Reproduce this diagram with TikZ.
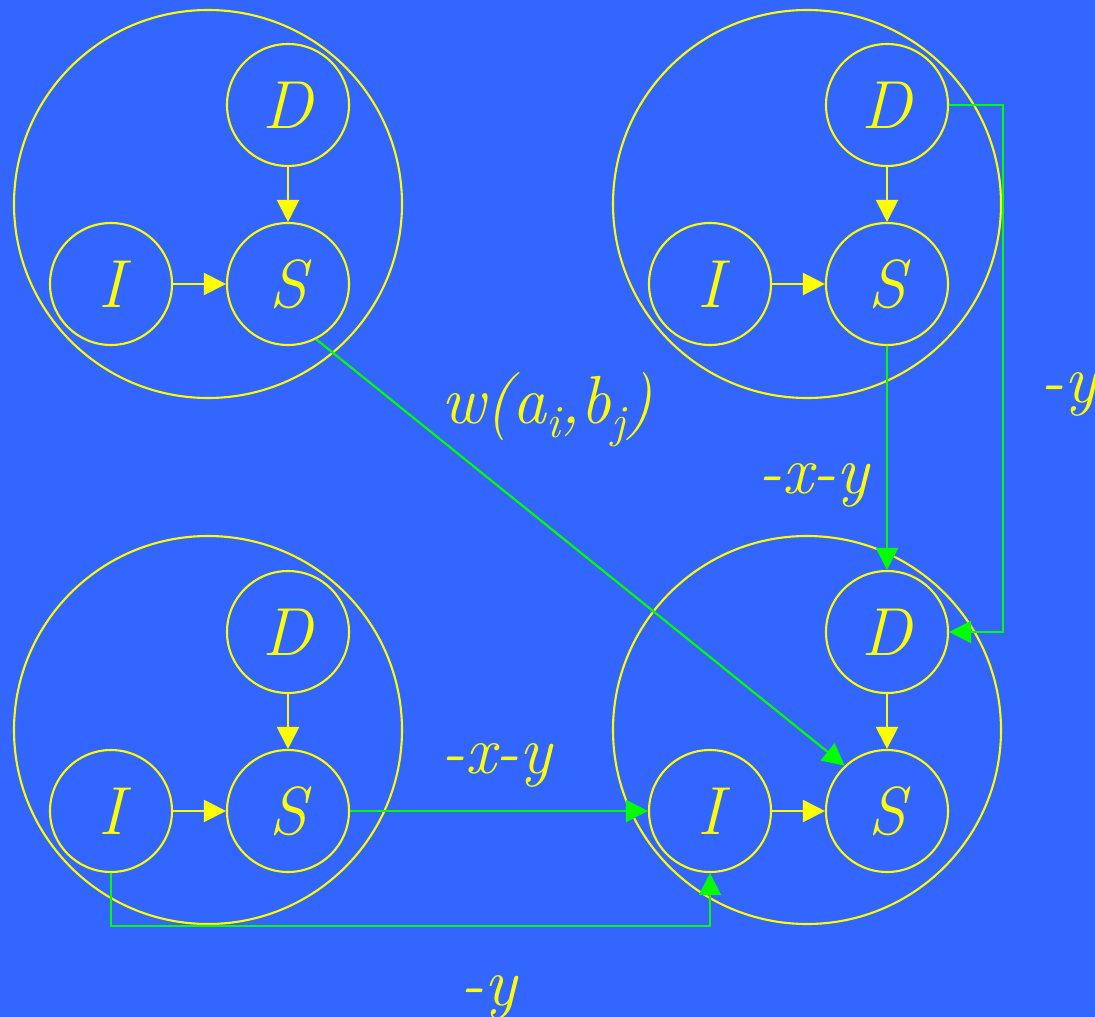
\documentclass[tikz,border=0pt]{standalone}
\usepackage{fontspec}
\usetikzlibrary{arrows.meta}
\definecolor{bgblue}{HTML}{3366FF}
\definecolor{yel}{HTML}{FFFF00}
\definecolor{grn}{HTML}{00FF00}
\newcommand{\bigital}{\fontsize{68}{72}\selectfont\itshape\addfontfeatures{FakeBold=1.5}}
\begin{document}
\begin{tikzpicture}[x=1pt,y=-1pt,
  big/.style={circle,draw=yel,line width=2.1pt,minimum size=388pt,inner sep=0pt},
  small/.style={circle,draw=yel,line width=2.1pt,minimum size=122pt,inner sep=0pt,text=yel,font=\bigital},
  yarr/.style={draw=yel,line width=2.1pt,-{Triangle[length=22pt,width=22pt]}},
  garr/.style={draw=grn,line width=2.2pt,-{Triangle[length=22pt,width=22pt]}},
  lbl/.style={text=yel,inner sep=0pt,anchor=base west,font=\bigital}]
\clip (0,0) rectangle (1095,1017);
\fill[bgblue] (0,0) rectangle (1095,1017);
% big circles
\node[big] (tl) at (208,204) {};
\node[big] (tr) at (807,204) {};
\node[big] (bl) at (208,730) {};
\node[big] (br) at (807,730) {};
% small circles
\foreach \g/\x/\y in {tl/0/0, tr/599/0, bl/0/527, br/599/527}{
  \node[small] (\g D) at (288+\x,105+\y) {D};
  \node[small] (\g S) at (288+\x,284+\y) {S};
  \node[small] (\g I) at (111+\x,284+\y) {I};
  \draw[yarr] (\g I) -- (\g S);
  \draw[yarr] (\g D) -- (\g S);
}
% green connectors
\draw[garr] (tlS.-63) -- (brS.133);
\draw[garr] (trS) -- (brD);
\draw[garr] (trD.east) -- ++(54,0) |- (brD.east);
\draw[garr] (blS) -- (brI);
\draw[garr] (blI.south) -- ++(0,53) -| (brI.south);
% labels
\node[lbl] (lw) at (441,423) {w(a\raisebox{-0.22em}{\fontsize{46}{48}\selectfont i},b\raisebox{-0.22em}{\fontsize{46}{48}\selectfont j})};
\node[lbl] (l1) at (758,493) {-x-y};
\node[lbl] (l2) at (1040,402) {-y};
\node[lbl] (l3) at (441,773) {-x-y};
\node[lbl] (l4) at (460,1005) {-y};
\end{tikzpicture}
\end{document}
